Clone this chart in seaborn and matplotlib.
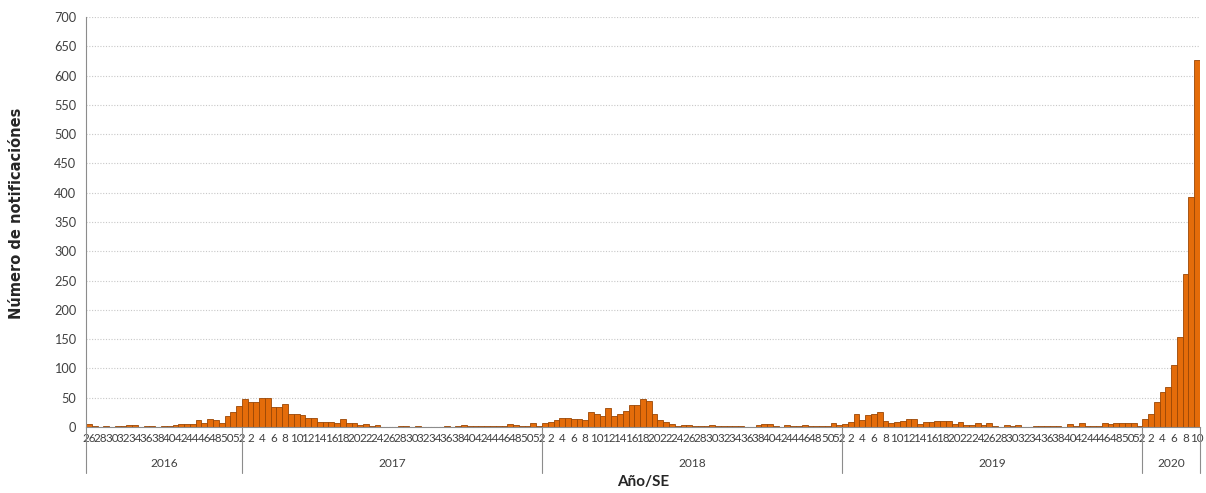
import matplotlib
matplotlib.use("Agg")
import matplotlib.pyplot as plt
import matplotlib.transforms as mtransforms
import numpy as np
import pandas as pd
import seaborn as sns

# ---- data ----
years = [2016, 2017, 2018, 2019, 2020]
weeks_2016 = list(range(26, 53))
weeks_2017 = list(range(1, 53))
weeks_2018 = list(range(1, 53))
weeks_2019 = list(range(1, 53))
weeks_2020 = list(range(1, 11))

cases_2016 = [5, 2, 0, 1, 0, 2, 2, 3, 4, 0, 1, 1, 0, 2, 2, 4, 5, 5, 5, 12,
              7, 13, 12, 6, 18, 26, 36]
cases_2017 = [47, 43, 43, 49, 49, 34, 34, 39, 23, 23,
              20, 16, 16, 9, 9, 9, 7, 13, 7, 7,
              3, 5, 2, 3, 0, 0, 0, 2, 2, 0,
              2, 0, 0, 0, 0, 1, 0, 1, 3, 2,
              1, 2, 2, 2, 1, 2, 5, 4, 1, 2,
              7, 1]
cases_2018 = [7, 8, 12, 16, 15, 13, 13, 12, 26, 23,
              19, 32, 19, 23, 28, 37, 37, 47, 44, 22,
              12, 9, 5, 2, 3, 3, 1, 1, 1, 3,
              1, 2, 2, 1, 1, 0, 0, 3, 5, 5,
              1, 0, 4, 2, 1, 4, 1, 2, 2, 1,
              6, 4]
cases_2019 = [5, 9, 22, 12, 20, 22, 25, 11, 7, 9,
              10, 14, 13, 5, 9, 9, 11, 10, 11, 5,
              9, 3, 3, 7, 3, 6, 2, 0, 3, 2,
              3, 0, 0, 1, 2, 1, 2, 1, 0, 5,
              2, 7, 1, 2, 2, 6, 5, 6, 6, 6,
              7, 2]
cases_2020 = [13, 23, 42, 60, 69, 106, 154, 261, 393, 627]

y_ticks = list(range(0, 701, 50))

week_lists = [weeks_2016, weeks_2017, weeks_2018, weeks_2019, weeks_2020]
case_lists = [cases_2016, cases_2017, cases_2018, cases_2019, cases_2020]

rows = []
for yr, wks, cs in zip(years, week_lists, case_lists):
    for w, c in zip(wks, cs):
        rows.append({"year": yr, "week": w, "key": f"{yr}-{w:02d}", "cases": c})
df = pd.DataFrame(rows)

# ---- style ----
sns.set_style("white")
plt.rcParams["font.family"] = ["Lato", "DejaVu Sans"]

bar_color = "#E46C0A"
edge_color = "#9A4705"
axis_gray = "#8c8c8c"
text_gray = "#404040"

fig = plt.figure(figsize=(12.06, 4.93), dpi=100)
ax = fig.add_axes([86 / 1206, 66 / 493, 1114 / 1206, 410 / 493])

sns.barplot(data=df, x="key", y="cases", color=bar_color, saturation=1,
            width=1.0, edgecolor=edge_color, linewidth=0.6, errorbar=None, ax=ax)

n = len(df)
ax.set_xlim(-0.5, n - 0.5)
ax.set_ylim(0, 700)
ax.set_yticks(y_ticks)
ax.set_yticklabels([str(v) for v in y_ticks], fontsize=9.2, color=text_gray)
ax.tick_params(axis="y", length=4, color=axis_gray, width=0.8, pad=3)

ax.yaxis.grid(True, linestyle=(0, (1, 1.5)), color="#c8c8c8", linewidth=0.8)
ax.xaxis.grid(False)
ax.set_axisbelow(True)

for s in ["top", "right"]:
    ax.spines[s].set_visible(False)
for s in ["left", "bottom"]:
    ax.spines[s].set_color(axis_gray)
    ax.spines[s].set_linewidth(0.8)

# week tick labels (even weeks)
tick_pos = [i for i, w in enumerate(df["week"]) if w % 2 == 0]
tick_lab = [str(df["week"].iloc[i]) for i in tick_pos]
ax.set_xticks(tick_pos)
ax.set_xticklabels(tick_lab, fontsize=8.4, color=text_gray)
ax.tick_params(axis="x", length=0, pad=4)
ax.set_xlabel("")
ax.set_ylabel("")

# year groups: separators and labels
trans = mtransforms.blended_transform_factory(ax.transData, ax.transAxes)
bounds = [-0.5]
pos = -0.5
for cs in case_lists:
    pos += len(cs)
    bounds.append(pos)
for b in bounds:
    ax.plot([b, b], [0, -0.113], transform=trans, color=axis_gray,
            linewidth=0.8, clip_on=False)
for yr, a, b in zip(years, bounds[:-1], bounds[1:]):
    ax.text((a + b) / 2, -0.088, str(yr), transform=trans, ha="center",
            va="center", fontsize=8.6, color=text_gray)

fig.text(643 / 1206, 1 - 482 / 493, "Año/SE", ha="center", va="center",
         fontsize=11, fontweight="bold", color="#262626")
fig.text(17 / 1206, 1 - 213 / 493, "Número de notificaciónes", ha="center",
         va="center", rotation=90, fontsize=10.5, fontweight="bold",
         color="#262626", family=["DejaVu Sans"])

fig.savefig("out.png", dpi=100)
